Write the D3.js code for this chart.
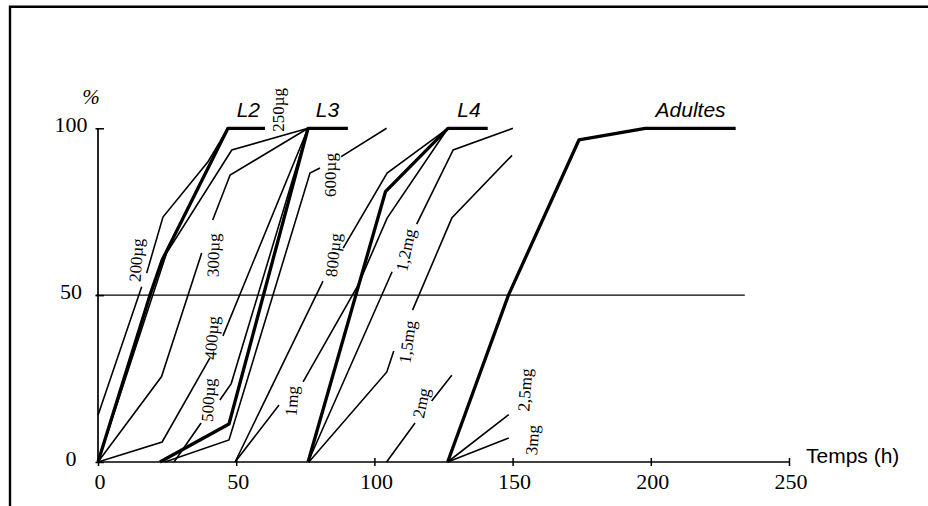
<!DOCTYPE html>
<html>
<head>
<meta charset="utf-8">
<script src="https://cdn.jsdelivr.net/npm/d3@7"></script>
<style>
  body { margin: 0; background: #fff; }
  svg { display: block; }
</style>
</head>
<body>
<svg id="chart" width="928" height="506"></svg>
<script>
// points are [time (h), percent]; null breaks a line where a dose label sits
var xTicks = [0, 50, 100, 150, 200, 250];
var yTicks = [0, 50, 100];

// controls (thick lines)
var L2 = [[0, 0], [18.8, 50], [23.2, 60.5], [47, 100], [60.4, 100]];
var L3 = [[22.4, 0], [47.4, 11.4], [76, 100], [90.4, 100]];
var L4 = [[76, 0], [104, 81], [126.6, 100], [141, 100]];
var adultes = [[126.5, 0], [148.5, 50], [174, 96.5], [198, 100], [230.7, 100]];

// treated (thin lines)
var d200ug = [[0, 14], [15.8, 52.5], null, [17.6, 56.6], [23.5, 73.4], [39.8, 90], [47, 100]];
var d250ug = [[0, 0], [24.8, 62.6], [48.4, 93.5], [76, 100]];
var d300ug = [[0, 0], [23, 25.6], [37.5, 62.6], null, [41.5, 72.5], [47.8, 86], [76, 100]];
var d400ug = [[0, 0], [23.2, 6], [40.5, 31.2], null, [45.2, 37.8], [76, 100]];
var d500ug = [[27.5, 0], [37.3, 11.7], null, [44.1, 18.6], [48.2, 23.5], [76, 100]];
var d600ug = [[24.2, 0], [47.4, 6.6], [76.7, 86.6], [80.3, 88.1], null, [88, 91.5], [104.4, 100]];
var d800ug = [[49.6, 0], [81.4, 54.2], null, [88.7, 64.1], [104.6, 86.6], [126.6, 100]];
var d1mg = [[49.6, 0], [65.5, 17.1], null, [74.2, 24], [94.1, 53], [104.6, 73.1], [126.6, 100]];
var d1_2mg = [[76, 0], [106.4, 57], null, [115.3, 71.3], [128.5, 93.5], [150.1, 100]];
var d1_5mg = [[76.3, 0], [104.5, 27], [107, 33.3], null, [113.8, 45.5], [128, 73.1], [149.8, 91.9]];
var d2mg = [[104.4, 0], [114.7, 11.7], null, [120.7, 18.3], [128, 26]];
var d2_5mg = [[126.5, 0], [148.6, 14.2]];
var d3mg = [[126.5, 0], [148.6, 7.2]];

var stageNames = ['L2', 'L3', 'L4', 'Adultes'];
var stageAt = [[54.4, 103.4], [83, 103.4], [134.2, 103.4], [214.4, 103.4]];

var doseNames = ['200µg', '250µg', '300µg', '400µg', '500µg', '600µg', '800µg',
                 '1mg', '1,2mg', '1,5mg', '2mg', '2,5mg', '3mg'];
var doseAt = [[13.9, 60.5], [65.1, 105.5], [41.8, 62], [41.2, 37.2], [40, 18.6], [83.9, 86],
              [85.2, 62], [70.2, 18.3], [111.4, 63.5], [112, 36], [117, 17.7], [154.5, 21.6], [157.2, 6.6]];
// slant of each label in the scan, degrees
var doseTilt = [-86, -90, -88, -86, -86, -90, -84, -86, -78, -82, -78, -86, -86];

var halfLevel = 50;
var halfEnd = 234;

var svg = d3.select('#chart');
var x = d3.scaleLinear().domain([0, 250]).range([98, 789]);
var y = d3.scaleLinear().domain([0, 100]).range([462, 128.3]);

var serif = '"Liberation Serif", "Times New Roman", serif';
var sans = '"Liberation Sans", Arial, sans-serif';

// frame, cut at the bottom and right like the scan
svg.append('path')
  .attr('d', 'M10,506 V6.7 H928')
  .attr('fill', 'none')
  .attr('stroke', '#000')
  .attr('stroke-width', 2.4);

// 50 % line
svg.append('line')
  .attr('x1', x(-0.8)).attr('x2', x(halfEnd))
  .attr('y1', y(halfLevel)).attr('y2', y(halfLevel))
  .attr('stroke', '#000')
  .attr('stroke-width', 1.3);

// x axis
var gx = svg.append('g')
  .attr('transform', 'translate(0,' + y(0) + ')')
  .call(d3.axisBottom(x).tickValues(xTicks).tickSize(0));
gx.select('.domain').remove();
gx.append('line')
  .attr('x1', x(0)).attr('x2', x(250))
  .attr('stroke', '#000').attr('stroke-width', 1.7);
gx.selectAll('.tick line')
  .attr('y1', -4).attr('y2', 4)
  .attr('stroke', '#000').attr('stroke-width', 1.5);
gx.selectAll('.tick text')
  .attr('y', 27).attr('dy', 0).attr('dx', 1.5)
  .attr('fill', '#000')
  .style('font-family', serif).style('font-size', '22px');

// y axis
var gy = svg.append('g')
  .attr('transform', 'translate(' + x(0) + ',0)')
  .call(d3.axisLeft(y).tickValues(yTicks).tickSize(0));
gy.select('.domain').remove();
gy.append('line')
  .attr('y1', y(0)).attr('y2', y(100))
  .attr('stroke', '#000').attr('stroke-width', 1.7);
gy.selectAll('.tick line')
  .attr('x1', -2.5).attr('x2', 6)
  .attr('stroke', '#000').attr('stroke-width', 1.5);
gy.selectAll('.tick text')
  .attr('x', -27).attr('dy', '0.15em')
  .attr('text-anchor', 'middle')
  .attr('fill', '#000')
  .style('font-family', serif).style('font-size', '22px');

svg.append('text')
  .attr('x', x(0) - 7).attr('y', 104)
  .attr('text-anchor', 'middle')
  .style('font-family', serif).style('font-size', '21px').style('font-style', 'italic')
  .text('%');

svg.append('text')
  .attr('x', 806).attr('y', y(0) + 1)
  .style('font-family', sans).style('font-size', '21px')
  .text('Temps (h)');

// curves
var line = d3.line()
  .defined(function(d) { return d !== null; })
  .x(function(d) { return x(d[0]); })
  .y(function(d) { return y(d[1]); });

var thin = [d200ug, d250ug, d300ug, d400ug, d500ug, d600ug, d800ug,
            d1mg, d1_2mg, d1_5mg, d2mg, d2_5mg, d3mg];
var thick = [L2, L3, L4, adultes];

svg.append('g').selectAll('path')
  .data(thin)
  .join('path')
  .attr('d', line)
  .attr('fill', 'none')
  .attr('stroke', '#000')
  .attr('stroke-width', 1.6);

svg.append('g').selectAll('path')
  .data(thick)
  .join('path')
  .attr('d', line)
  .attr('fill', 'none')
  .attr('stroke', '#000')
  .attr('stroke-width', 3.3)
  .attr('stroke-linejoin', 'round');

// stage names
svg.append('g').selectAll('text')
  .data(stageNames)
  .join('text')
  .attr('x', function(d, i) { return x(stageAt[i][0]); })
  .attr('y', function(d, i) { return y(stageAt[i][1]); })
  .attr('text-anchor', 'middle')
  .style('font-family', sans).style('font-size', '21px').style('font-style', 'italic')
  .text(function(d) { return d; });

// dose labels, written upwards along the curves
svg.append('g').selectAll('text')
  .data(doseNames)
  .join('text')
  .attr('transform', function(d, i) {
    return 'translate(' + x(doseAt[i][0]) + ',' + y(doseAt[i][1]) + ') rotate(' + doseTilt[i] + ')';
  })
  .attr('text-anchor', 'middle')
  .attr('dy', '0.33em')
  .style('font-family', serif).style('font-size', '17px')
  .text(function(d) { return d; });
</script>
</body>
</html>
